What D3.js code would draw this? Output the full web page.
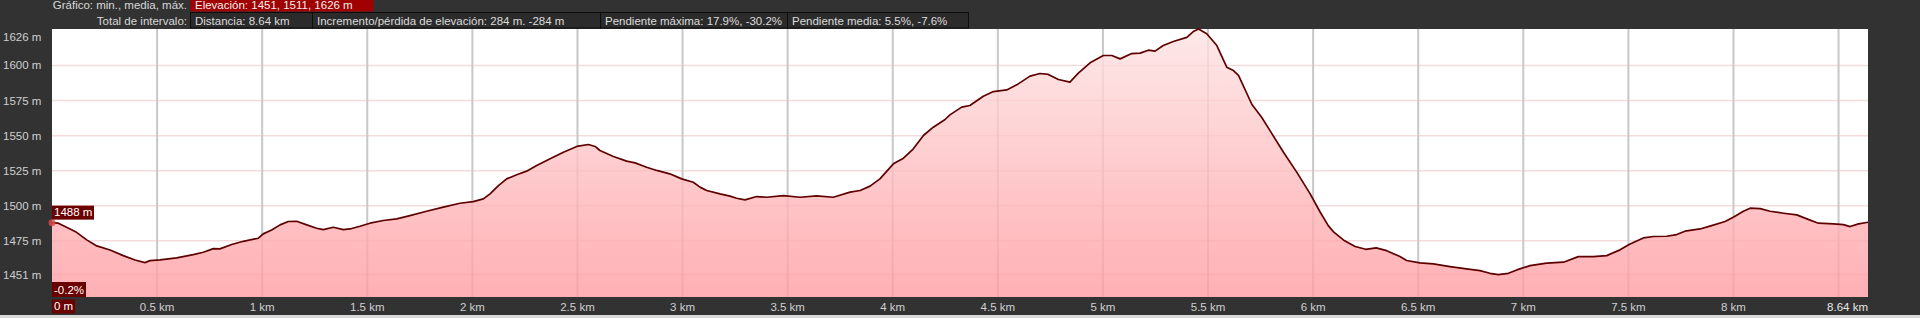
<!DOCTYPE html>
<html>
<head>
<meta charset="utf-8">
<script src="https://cdn.jsdelivr.net/npm/d3@7"></script>
<style>
  html, body { margin: 0; padding: 0; background: #323232; overflow: hidden; }
  svg { display: block; font-family: "Liberation Sans", Arial, sans-serif; }
</style>
</head>
<body>
<svg id="chart" width="1920" height="318"></svg>
<script>
// profile: distance (km) / elevation (m)
var distKm = [0, 0.030, 0.062, 0.117, 0.165, 0.213, 0.276, 0.339, 0.395, 0.442, 0.466, 0.514, 0.593, 0.672,
  0.720, 0.768, 0.799, 0.855, 0.910, 0.982, 1.005, 1.045, 1.085, 1.124, 1.164, 1.212, 1.259, 1.291, 1.338,
  1.386, 1.418, 1.465, 1.513, 1.576, 1.640, 1.703, 1.782, 1.862, 1.941, 2.004, 2.052, 2.084, 2.124, 2.163,
  2.211, 2.258, 2.306, 2.370, 2.433, 2.497, 2.552, 2.584, 2.607, 2.671, 2.734, 2.774, 2.829, 2.877, 2.939,
  2.996, 3.051, 3.083, 3.115, 3.178, 3.226, 3.257, 3.297, 3.353, 3.400, 3.480, 3.559, 3.638, 3.717, 3.797,
  3.845, 3.892, 3.939, 4.003, 4.051, 4.098, 4.146, 4.193, 4.249, 4.272, 4.328, 4.367, 4.431, 4.479, 4.542,
  4.590, 4.653, 4.701, 4.740, 4.788, 4.843, 4.883, 4.939, 5.002, 5.042, 5.082, 5.137, 5.177, 5.216, 5.248,
  5.287, 5.335, 5.399, 5.430, 5.455, 5.494, 5.542, 5.589, 5.621, 5.645, 5.709, 5.755, 5.795, 5.859, 5.922,
  5.986, 6.034, 6.072, 6.10, 6.15, 6.20, 6.25, 6.30, 6.35, 6.413, 6.445, 6.508, 6.572, 6.651, 6.730, 6.794,
  6.841, 6.881, 6.929, 6.969, 7.032, 7.111, 7.191, 7.262, 7.333, 7.397, 7.460, 7.508, 7.571, 7.619, 7.682,
  7.730, 7.769, 7.841, 7.896, 7.960, 7.999, 8.047, 8.079, 8.127, 8.174, 8.238, 8.301, 8.349, 8.404, 8.476,
  8.523, 8.555, 8.595, 8.640];
var elevM = [1488, 1487.6, 1485.2, 1481.1, 1475.7, 1471.4, 1468.5, 1464.5, 1461.4, 1459.5, 1460.9, 1461.4,
  1462.9, 1465.2, 1466.9, 1469.5, 1469.3, 1472.4, 1474.7, 1476.9, 1480.0, 1482.8, 1486.4, 1488.8, 1489.0,
  1486.4, 1484.0, 1483.0, 1484.7, 1483.0, 1483.5, 1485.4, 1487.6, 1489.5, 1490.7, 1493.0, 1496.1, 1499.0,
  1501.8, 1503.0, 1504.9, 1508.5, 1514.4, 1519.2, 1522.1, 1524.7, 1528.7, 1533.5, 1538.2, 1542.3, 1543.7,
  1542.3, 1539.4, 1535.1, 1531.8, 1530.6, 1527.5, 1525.2, 1522.8, 1519.2, 1516.8, 1513.3, 1510.9, 1508.5,
  1506.9, 1505.4, 1504.2, 1506.6, 1506.1, 1507.3, 1506.1, 1507.1, 1506.1, 1509.7, 1510.9, 1514.0, 1519.2,
  1529.9, 1533.9, 1540.6, 1550.1, 1556.0, 1561.5, 1564.8, 1570.3, 1571.5, 1578.1, 1581.4, 1582.6, 1586.2,
  1592.4, 1594.3, 1593.6, 1590.0, 1588.1, 1594.5, 1601.9, 1607.1, 1607.1, 1604.7, 1608.5, 1608.8, 1610.9,
  1610.2, 1614.2, 1617.1, 1620.0, 1624.2, 1626, 1622.6, 1614.2, 1598.8, 1596.4, 1592.9, 1572.2, 1563.1,
  1553.6, 1538.2, 1524.0, 1508.5, 1495.4, 1485.9, 1481, 1475, 1471, 1469, 1470, 1468, 1463.8, 1461.0,
  1459.3, 1458.6, 1456.7, 1455.0, 1453.8, 1451.9, 1451, 1451.9, 1454.3, 1457.4, 1459.1, 1459.8, 1463.8,
  1463.8, 1464.5, 1468.6, 1472.8, 1477.1, 1478.1, 1478.3, 1479.5, 1481.9, 1483.5, 1485.9, 1488.8, 1491.9,
  1496.1, 1498.3, 1498.0, 1496.1, 1494.7, 1493.5, 1490.7, 1487.6, 1487.1, 1486.6, 1485.2, 1487.1, 1488.3];

var yTicks = [1451, 1475, 1500, 1525, 1550, 1575, 1600, 1626];
var xTicks = [0.5, 1, 1.5, 2, 2.5, 3, 3.5, 4, 4.5, 5, 5.5, 6, 6.5, 7, 7.5, 8, 8.5];
var totalKm = 8.64;

var statLead = 'Gráfico: min., media, máx.';
var statElev = 'Elevación: 1451, 1511, 1626 m';
var rangeLead = 'Total de intervalo:';
var rangeStats = ['Distancia: 8.64 km', 'Incremento/pérdida de elevación: 284 m. -284 m',
  'Pendiente máxima: 17.9%, -30.2%', 'Pendiente media: 5.5%, -7.6%'];
var rangeEdges = [190, 312, 600, 787, 968];

var cursorElev = '1488 m', cursorSlope = '-0.2%', cursorDist = '0 m';

var points = distKm.map(function(d, i){ return {d: d, e: elevM[i]}; });

var plotL = 52, plotR = 1868, plotT = 29, plotB = 297;

var x = d3.scaleLinear().domain([0, totalKm]).range([plotL, plotR]);
var y = d3.scaleLinear().domain([1435, 1626]).range([plotB, plotT]);

var svg = d3.select('#chart');

svg.append('rect').attr('width', 1920).attr('height', 318).attr('fill', '#323232');
svg.append('rect').attr('x', 0).attr('y', 315).attr('width', 1920).attr('height', 3).attr('fill', '#d9d9d9');

var defs = svg.append('defs');
var grad = defs.append('linearGradient')
  .attr('id', 'fillGrad')
  .attr('gradientUnits', 'userSpaceOnUse')
  .attr('x1', 0).attr('x2', 0)
  .attr('y1', plotT).attr('y2', plotB);
grad.append('stop').attr('offset', '0%').attr('stop-color', '#fde3e3');
grad.append('stop').attr('offset', '100%').attr('stop-color', '#ff9ca1');

// plot background
svg.append('rect')
  .attr('x', plotL).attr('y', plotT)
  .attr('width', plotR - plotL).attr('height', plotB - plotT)
  .attr('fill', '#ffffff');

// grid
svg.append('g').selectAll('line')
  .data(yTicks.filter(function(t){ return t < 1626; }))
  .enter().append('line')
  .attr('x1', plotL).attr('x2', plotR)
  .attr('y1', function(t){ return y(t); })
  .attr('y2', function(t){ return y(t); })
  .attr('stroke', '#f5dcdc')
  .attr('stroke-width', 1.5);

svg.append('g').selectAll('line')
  .data(xTicks)
  .enter().append('line')
  .attr('x1', function(t){ return x(t); })
  .attr('x2', function(t){ return x(t); })
  .attr('y1', plotT).attr('y2', plotB)
  .attr('stroke', '#c8c8c8')
  .attr('stroke-width', 2);

// profile
var area = d3.area()
  .x(function(p){ return x(p.d); })
  .y0(plotB)
  .y1(function(p){ return y(p.e); });

var line = d3.line()
  .x(function(p){ return x(p.d); })
  .y(function(p){ return y(p.e); });

svg.append('path')
  .datum(points)
  .attr('d', area)
  .attr('fill', 'url(#fillGrad)')
  .attr('fill-opacity', 0.8);

svg.append('path')
  .datum(points)
  .attr('d', line)
  .attr('fill', 'none')
  .attr('stroke', '#5e0000')
  .attr('stroke-width', 1.7)
  .attr('stroke-linejoin', 'round');

// y labels
svg.append('g').selectAll('text')
  .data(yTicks)
  .enter().append('text')
  .attr('x', 3)
  .attr('y', function(t){ return Math.max(y(t), 37) + 4; })
  .attr('fill', '#cfcfcf')
  .style('font-size', '11.5px')
  .text(function(t){ return t + ' m'; });

// x labels
svg.append('g').selectAll('text')
  .data(xTicks.filter(function(t){ return t < 8.5; }))
  .enter().append('text')
  .attr('x', function(t){ return x(t); })
  .attr('y', 311)
  .attr('text-anchor', 'middle')
  .attr('fill', '#cfcfcf')
  .style('font-size', '11.5px')
  .text(function(t){ return t + ' km'; });

svg.append('text')
  .attr('x', x(totalKm))
  .attr('y', 311)
  .attr('text-anchor', 'end')
  .attr('fill', '#e6e6e6')
  .style('font-size', '11.5px')
  .text(totalKm + ' km');

// cursor at start
var start = points[0];
svg.append('circle')
  .attr('cx', x(start.d)).attr('cy', y(start.e))
  .attr('r', 3.5)
  .attr('fill', '#e04848')
  .attr('fill-opacity', 0.8);

function tag(tx, ty, w, h, txt){
  svg.append('rect')
    .attr('x', tx).attr('y', ty)
    .attr('width', w).attr('height', h)
    .attr('fill', '#6a0000');
  svg.append('text')
    .attr('x', tx + 2).attr('y', ty + h - 3.5)
    .attr('fill', '#ffffff')
    .style('font-size', '11.5px')
    .text(txt);
}
tag(plotL, y(start.e) - 17, 42, 14, cursorElev);
tag(plotL, plotB - 15, 34, 15, cursorSlope);
tag(plotL, 299.5, 23, 14, cursorDist);

// header
svg.append('text')
  .attr('x', 187).attr('y', 9)
  .attr('text-anchor', 'end')
  .attr('fill', '#d8d8d8')
  .style('font-size', '11.5px')
  .text(statLead);

svg.append('rect')
  .attr('x', 190.5).attr('y', -1)
  .attr('width', 183).attr('height', 12.5)
  .attr('fill', '#a00000');
svg.append('text')
  .attr('x', 195).attr('y', 9)
  .attr('fill', '#f0f0f0')
  .style('font-size', '11.5px')
  .text(statElev);

svg.append('text')
  .attr('x', 187).attr('y', 24.5)
  .attr('text-anchor', 'end')
  .attr('fill', '#d8d8d8')
  .style('font-size', '11.5px')
  .text(rangeLead);

svg.append('g').selectAll('rect')
  .data(rangeStats)
  .enter().append('rect')
  .attr('x', function(s, i){ return rangeEdges[i] + 0.5; })
  .attr('y', 12.5)
  .attr('width', function(s, i){ return rangeEdges[i + 1] - rangeEdges[i]; })
  .attr('height', 15.5)
  .attr('fill', '#2b2b2b')
  .attr('stroke', '#0d0d0d')
  .attr('stroke-width', 1);

svg.append('g').selectAll('text')
  .data(rangeStats)
  .enter().append('text')
  .attr('x', function(s, i){ return rangeEdges[i] + 5; })
  .attr('y', 24.5)
  .attr('fill', '#dcdcdc')
  .style('font-size', '11.5px')
  .text(function(s){ return s; });
</script>
</body>
</html>
